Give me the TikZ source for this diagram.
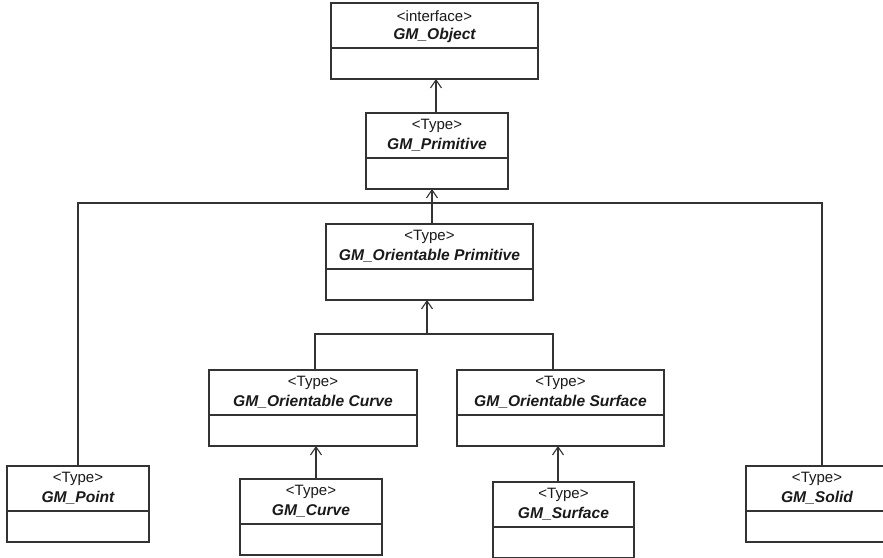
\documentclass[tikz,border=0pt]{standalone}
\usepackage{fontspec}
\setmainfont{Liberation Sans}
\usetikzlibrary{arrows.meta}

\definecolor{ink}{HTML}{333333}
\definecolor{txt}{HTML}{1A1A1A}

% UML class box: name, left x, right x, top y, stereotype, class name
\newcommand\umlclass[6]{%
  \node[classbox, minimum width={#3-#2}, minimum height=76, anchor=north west] (#1) at (#2,#4) {};
  \draw[classline] ([yshift=-45pt]#1.north west) -- ([yshift=-45pt]#1.north east);
  \node[stereo] (#1-s) at ([yshift=-13pt]#1.north) {#5};
  \node[cname] (#1-n) at ([yshift=-32pt]#1.north) {#6};
}

\tikzset{
  classbox/.style={draw=ink, line width=1.1pt, fill=white, inner sep=0pt, outer sep=0pt},
  classline/.style={draw=ink, line width=1.1pt},
  stereo/.style={inner sep=0pt, text=txt, font=\fontsize{15}{17}\selectfont},
  cname/.style={inner sep=0pt, text=txt, font=\fontsize{15.6}{18}\selectfont\bfseries\itshape},
  wire/.style={draw=ink, line width=1.1pt},
  inherit/.style={wire, -{Straight Barb[length=8pt,width=11pt,line width=1.1pt]}},
}

\begin{document}
\begin{tikzpicture}[x=1pt, y=-1pt]
  \useasboundingbox (0,0) rectangle (883,557);
  \clip (0,0) rectangle (883,557);
  \fill[white] (0,0) rectangle (883,557);

  % class boxes
  \umlclass{obj}{331}{538}{3}{<interface>}{GM\_Object}
  \umlclass{prim}{366}{508}{113}{<Type>}{GM\_Primitive}
  \umlclass{oprim}{326}{533}{224}{<Type>}{GM\_Orientable Primitive}
  \umlclass{ocurve}{209}{417}{370}{<Type>}{GM\_Orientable Curve}
  \umlclass{osurf}{457}{664}{370}{<Type>}{GM\_Orientable Surface}
  \umlclass{point}{7}{149}{466}{<Type>}{GM\_Point}
  \umlclass{curve}{240}{382}{479}{<Type>}{GM\_Curve}
  \umlclass{surf}{493}{634}{482}{<Type>}{GM\_Surface}
  \umlclass{solid}{746}{888}{466}{<Type>}{GM\_Solid}

  % attachment points of the connectors
  \coordinate (tapObj) at (436,0);
  \coordinate (busA) at (432,203);
  \coordinate (tapSolid) at (822,0);
  \coordinate (busB) at (427,334);
  \coordinate (tapOC) at (315,0);
  \coordinate (tapOS) at (553,0);
  \coordinate (tapCurve) at (316,0);
  \coordinate (tapSurf) at (558,0);

  % generalisations
  \draw[inherit] (prim.north -| tapObj) -- (obj.south -| tapObj);
  \draw[inherit] (oprim.north -| busA) -- (prim.south -| busA);
  \draw[wire] (point.north) |- (busA);
  \draw[wire] (solid.north -| tapSolid) |- (busA);
  \draw[inherit] (busB) -- (oprim.south -| busB);
  \draw[wire] (ocurve.north -| tapOC) |- (busB);
  \draw[wire] (osurf.north -| tapOS) |- (busB);
  \draw[inherit] (curve.north -| tapCurve) -- (ocurve.south -| tapCurve);
  \draw[inherit] (surf.north -| tapSurf) -- (osurf.south -| tapSurf);
\end{tikzpicture}
\end{document}
